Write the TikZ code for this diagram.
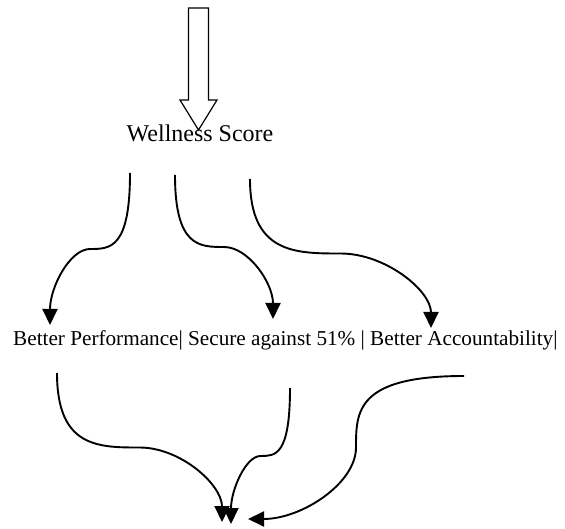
\documentclass[tikz,border=0pt]{standalone}
\usepackage{fontspec}
\setmainfont{Liberation Serif}
\usetikzlibrary{arrows.meta, calc}

\begin{document}
\begin{tikzpicture}[x=1pt, y=-1pt,
    conn/.style={line width=1.9pt, -{Triangle[length=16pt, width=15pt]}},
    txt/.style={inner sep=0pt, anchor=base west}]
    \useasboundingbox (0,0) rectangle (565,529);

    % 空心箭头
    \draw[line width=1.2pt] (188.5,8) -- (208.5,8) -- (208.5,100) -- (217,100)
        -- (198.5,130) -- (180,100) -- (188.5,100) -- cycle;

    % 文字
    \node[txt, font=\fontsize{24}{28}\selectfont] (score) at (126.5,142) {Wellness Score};
    \node[txt, font=\fontsize{21.2}{25}\selectfont] (benefits) at (13,345)
        {Better Performance| Secure against 51\% | Better Accountability|};

    % 连接点
    \coordinate (ws1) at (130,173);  \coordinate (perf) at (50,325);
    \coordinate (ws2) at (175,175);  \coordinate (sec) at (273,319);
    \coordinate (ws3) at (250,179);  \coordinate (acc) at (431,328);
    \coordinate (perf2) at (57,373); \coordinate (goal1) at (222,522);
    \coordinate (sec2) at (290,388); \coordinate (goal2) at (231,524);
    \coordinate (acc2) at (464,376); \coordinate (goal3) at (248,519);

    % 弯曲箭头（竖向起点）
    \foreach \s/\e in {ws1/perf, ws2/sec, ws3/acc, perf2/goal1, sec2/goal2} {
        \coordinate (m) at ($(\s)!0.5!(\e)$);
        \draw[conn] (\s) .. controls (\s |- m) and ($(\s |- m)!0.5!(m)$) .. (m)
            .. controls ($(m)!0.5!(m -| \e)$) and ($(\e)!0.5!(\e |- m)$) .. (\e);
    }

    % 弯曲箭头（横向起点）
    \coordinate (m3) at ($(acc2)!0.5!(goal3)$);
    \draw[conn] (acc2) .. controls (acc2 -| m3) and ($(acc2 -| m3)!0.5!(m3)$) .. (m3)
        .. controls ($(m3)!0.5!(m3 |- goal3)$) and ($(goal3)!0.5!(goal3 -| m3)$) .. (goal3);
\end{tikzpicture}
\end{document}
